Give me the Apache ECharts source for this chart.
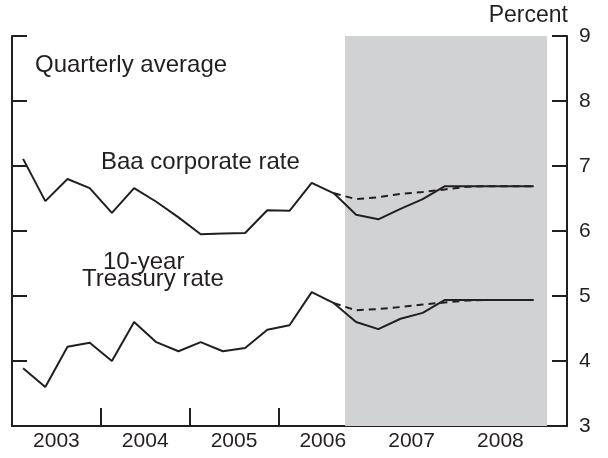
<!DOCTYPE html>
<html lang="en">
<head>
  <meta charset="UTF-8" />
  <title>Baa corporate and 10-year Treasury rates</title>
  <script src="https://cdn.jsdelivr.net/npm/echarts@6/dist/echarts.min.js"></script>
  <style>
    body { margin: 0; background: #fff; }
    #chart { width: 608px; height: 458px; }
  </style>
</head>
<body>
  <div id="chart"></div>
  <script>
    // quarterly averages, 2003Q1 .. 2008Q4
    const years = [2003, 2004, 2005, 2006, 2007, 2008];
    const baaRate = [7.11, 6.46, 6.80, 6.66, 6.28, 6.66, 6.45, 6.21, 5.95, 5.96, 5.97, 6.32,
                     6.31, 6.74, 6.58, 6.25, 6.18, 6.34, 6.49, 6.69, 6.69, 6.69, 6.69, 6.69];
    const treasuryRate = [3.89, 3.60, 4.22, 4.28, 4.00, 4.60, 4.29, 4.15, 4.29, 4.15, 4.20, 4.48,
                          4.55, 5.06, 4.89, 4.60, 4.49, 4.65, 4.74, 4.94, 4.94, 4.94, 4.94, 4.94];
    // October Greenbook path, from 2006Q3
    const gbStart = 14;
    const baaGB = [6.58, 6.49, 6.52, 6.57, 6.60, 6.64, 6.68, 6.69, 6.69, 6.69];
    const treasuryGB = [4.89, 4.78, 4.80, 4.83, 4.87, 4.90, 4.93, 4.94, 4.94, 4.94];
    // shaded forecast period, in quarters from 2003Q1
    const shadeFrom = 15;
    const shadeTo = 24.1;

    const ink = '#231f20';
    const font = 'Liberation Sans, Arial, Helvetica, sans-serif';

    const toPoints = (vals, start) => vals.map((v, i) => [start + i + 0.5, v]);

    const chart = echarts.init(document.getElementById('chart'));

    const lineStyle = { color: ink, width: 2 };
    const dashStyle = { color: ink, width: 2, type: [7, 5] };
    const axisLine = { show: true, onZero: false, lineStyle: { color: ink, width: 2 } };

    const annotation = (text, left, top) => ({
      type: 'text', left, top,
      style: { text, fill: ink, font: '24px ' + font }
    });

    chart.setOption({
      animation: false,
      grid: { left: 12, right: 41, top: 36, bottom: 32, containLabel: false, outerBoundsMode: 'none' },
      xAxis: [{
        type: 'value', min: 0, max: 25, interval: 4,
        axisLine,
        axisTick: { inside: true, length: 18, lineStyle: { color: ink, width: 2 } },
        axisLabel: { show: false },
        splitLine: { show: false }
      }, {
        type: 'value', min: 0, max: 25, interval: 2, position: 'bottom',
        axisLine: { show: false, onZero: false },
        axisTick: { show: false },
        splitLine: { show: false },
        axisLabel: {
          color: ink, fontSize: 21, fontFamily: font, margin: 5,
          formatter: v => (v % 4 === 2 ? String(years[(v - 2) / 4]) : '')
        }
      }],
      yAxis: [{
        type: 'value', position: 'right', min: 3, max: 9, interval: 1,
        name: 'Percent', nameGap: 9,
        nameTextStyle: { color: ink, fontSize: 23, fontFamily: font, align: 'right', padding: [0, -1, 0, 0] },
        axisLine,
        axisTick: { show: true, inside: true, length: 15, lineStyle: { color: ink, width: 2 } },
        axisLabel: { color: ink, fontSize: 21, fontFamily: font, margin: 12 },
        splitLine: { show: false }
      }, {
        type: 'value', position: 'left', min: 3, max: 9, interval: 1,
        axisLine,
        axisTick: { show: true, inside: true, length: 15, lineStyle: { color: ink, width: 2 } },
        axisLabel: { show: false },
        splitLine: { show: false }
      }],
      graphic: [
        annotation('Quarterly average', 35, 53),
        annotation('Baa corporate rate', 101, 150),
        annotation('10-year', 103, 250),
        annotation('Treasury rate', 82, 267),
        annotation('October GB', 367, 147),
        annotation('October GB', 369, 263)
      ],
      series: [{
        type: 'line', data: [], silent: true, z: 1,
        markArea: {
          silent: true,
          itemStyle: { color: '#d1d2d4' },
          data: [[{ xAxis: shadeFrom }, { xAxis: shadeTo }]]
        }
      }, {
        type: 'line', data: toPoints(baaGB, gbStart), symbol: 'none', lineStyle: dashStyle, z: 3
      }, {
        type: 'line', data: toPoints(treasuryGB, gbStart), symbol: 'none', lineStyle: dashStyle, z: 3
      }, {
        type: 'line', data: toPoints(baaRate, 0), symbol: 'none', lineStyle, z: 4
      }, {
        type: 'line', data: toPoints(treasuryRate, 0), symbol: 'none', lineStyle, z: 4
      }]
    });
  </script>
</body>
</html>
